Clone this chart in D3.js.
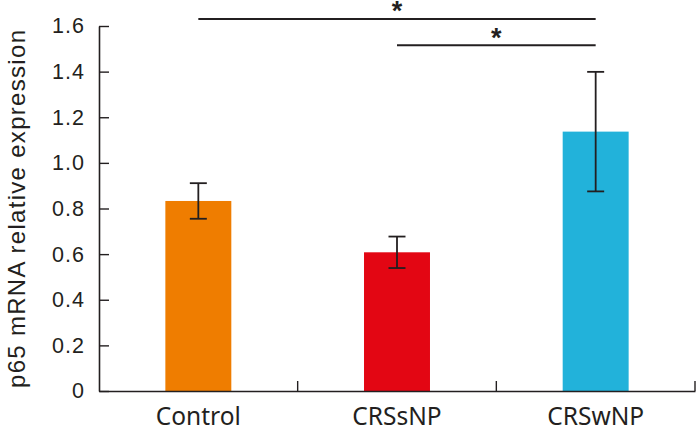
<!DOCTYPE html>
<html>
<head>
<meta charset="utf-8">
<script src="https://cdn.jsdelivr.net/npm/d3@7"></script>
<style>
  html, body { margin: 0; padding: 0; background: #fff; }
  svg { display: block; }
</style>
</head>
<body>
<svg id="chart" width="699" height="429"></svg>
<script>
// ---- data ----
const categories = ["Control", "CRSsNP", "CRSwNP"];
const means = [0.833, 0.608, 1.137];
const errors = [0.078, 0.069, 0.262];
const barColors = ["#EF7D00", "#E30613", "#22B2DA"];
const yTicks = [0, 0.2, 0.4, 0.6, 0.8, 1.0, 1.2, 1.4, 1.6];
const yTickLabels = ["0", "0.2", "0.4", "0.6", "0.8", "1.0", "1.2", "1.4", "1.6"];
const sigFrom = ["Control", "CRSsNP"];
const sigTo = ["CRSwNP", "CRSwNP"];
const sigLevel = [1.631, 1.516];
const sigLabels = ["*", "*"];
const yTitle = "p65 mRNA relative expression";

// ---- layout ----
const svg = d3.select("#chart");
const ink = "#231f20";
const x = d3.scaleBand().domain(categories).range([99, 695]).paddingInner(0).paddingOuter(0);
const y = d3.scaleLinear().domain([0, 1.6]).range([391, 26]);
const barW = x.bandwidth() * 0.332;
const cx = c => x(c) + x.bandwidth() / 2;

// bars
svg.append("g").selectAll("rect").data(categories).join("rect")
  .attr("x", d => cx(d) - barW / 2)
  .attr("width", barW)
  .attr("y", (d, i) => y(means[i]))
  .attr("height", (d, i) => y(0) - y(means[i]))
  .attr("fill", (d, i) => barColors[i]);

// error bars
const eb = svg.append("g").attr("stroke", ink).attr("stroke-width", 1.8).attr("fill", "none");
categories.forEach((c, i) => {
  const top = y(means[i] + errors[i]), bot = y(means[i] - errors[i]);
  eb.append("line").attr("x1", cx(c)).attr("x2", cx(c)).attr("y1", top).attr("y2", bot);
  eb.append("line").attr("x1", cx(c) - 8.5).attr("x2", cx(c) + 8.5).attr("y1", top).attr("y2", top);
  eb.append("line").attr("x1", cx(c) - 8.5).attr("x2", cx(c) + 8.5).attr("y1", bot).attr("y2", bot);
});

// y axis
const yAxis = svg.append("g").attr("transform", "translate(99,0)")
  .call(d3.axisLeft(y).tickValues(yTicks).tickFormat((d, i) => yTickLabels[i])
    .tickSizeInner(-10).tickSizeOuter(0).tickPadding(14));
yAxis.select(".domain").attr("stroke", ink).attr("stroke-width", 1.6);
yAxis.selectAll(".tick line").attr("stroke", ink).attr("stroke-width", 1.4);
yAxis.selectAll(".tick text")
  .attr("fill", ink)
  .style("font-family", "'Liberation Sans', Arial, sans-serif")
  .style("font-size", "21.5px")
  .style("letter-spacing", "1px");

// x axis
const xAxis = svg.append("g").attr("transform", "translate(0,391)")
  .call(d3.axisBottom(x).tickSize(0).tickPadding(0));
xAxis.select(".domain").attr("stroke", ink).attr("stroke-width", 1.6);
xAxis.selectAll(".tick text")
  .attr("y", 34).attr("dy", null)
  .attr("fill", ink)
  .style("font-family", "'Noto Sans', sans-serif")
  .style("font-size", "24.5px");
xAxis.selectAll(".bnd").data(categories).join("line")
  .attr("class", "bnd")
  .attr("x1", d => x(d) + x.bandwidth()).attr("x2", d => x(d) + x.bandwidth())
  .attr("y1", 0).attr("y2", -10)
  .attr("stroke", ink).attr("stroke-width", 1.4);

// y title
svg.append("text")
  .attr("transform", "translate(24.5,209) rotate(-90)")
  .attr("text-anchor", "middle")
  .attr("fill", ink)
  .attr("textLength", 358)
  .style("font-family", "'Liberation Sans', Arial, sans-serif")
  .style("font-size", "24px")
  .text(yTitle);

// significance brackets
const sg = svg.append("g");
sigFrom.forEach((f, i) => {
  const yy = y(sigLevel[i]);
  sg.append("line")
    .attr("x1", cx(f)).attr("x2", cx(sigTo[i]))
    .attr("y1", yy).attr("y2", yy)
    .attr("stroke", ink).attr("stroke-width", 2);
  sg.append("text")
    .attr("x", (cx(f) + cx(sigTo[i])) / 2)
    .attr("y", yy + 1.5)
    .attr("text-anchor", "middle")
    .attr("fill", ink)
    .style("font-family", "'Liberation Sans', Arial, sans-serif")
    .style("font-size", "27px")
    .style("font-weight", "bold")
    .text(sigLabels[i]);
});
</script>
</body>
</html>
